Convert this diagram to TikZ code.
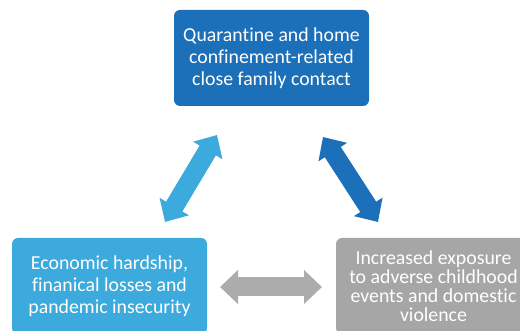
\documentclass[tikz,border=0pt]{standalone}
\usepackage{fontspec}
\setmainfont{Carlito}[Ligatures=NoCommon]
\usetikzlibrary{arrows.meta}

\definecolor{darkblue}{HTML}{1C6FB9}
\definecolor{lightblue}{HTML}{3CAADC}
\definecolor{boxgray}{HTML}{A6A6A6}
\definecolor{arrowgray}{HTML}{ACACAC}

\tikzset{
	factor/.style={rounded corners=6pt,minimum width=195pt,minimum height=96pt,
		align=center,text=white,inner sep=0pt,font=\fontsize{19.8}{22}\selectfont},
	twoway/.style={line width=19pt,
		{Triangle[length=18pt,width=33pt]}-{Triangle[length=18pt,width=33pt]}}
}

\begin{document}
\begin{tikzpicture}[x=1pt,y=1pt]
	\useasboundingbox (0,0) rectangle (520,331);
	
	% the three boxes
	\node[factor,fill=darkblue] (home) at (271.5,273)
		{Quarantine and home\\confinement-related\\close family contact};
	\node[factor,fill=lightblue] (econ) at (109.5,45)
		{Economic hardship,\\finanical losses and\\pandemic insecurity};
	\node[factor,fill=boxgray,font=\fontsize{19.8}{19}\selectfont] (abuse) at (433.5,45)
		{Increased exposure\\to adverse childhood\\events and domestic\\violence};
	
	% arrow ends
	\coordinate (econtop)  at (165,109);
	\coordinate (homeleft) at (217,196);
	\coordinate (homeright) at (323,194);
	\coordinate (abusetop) at (378,109);
	\coordinate (econright) at (220,44);
	\coordinate (abuseleft) at (322,44);
	
	%arrows
	\draw[twoway,lightblue] (econtop) -- (homeleft);
	\draw[twoway,darkblue] (homeright) -- (abusetop);
	\draw[twoway,arrowgray] (econright) -- (abuseleft);
\end{tikzpicture}
\end{document}
